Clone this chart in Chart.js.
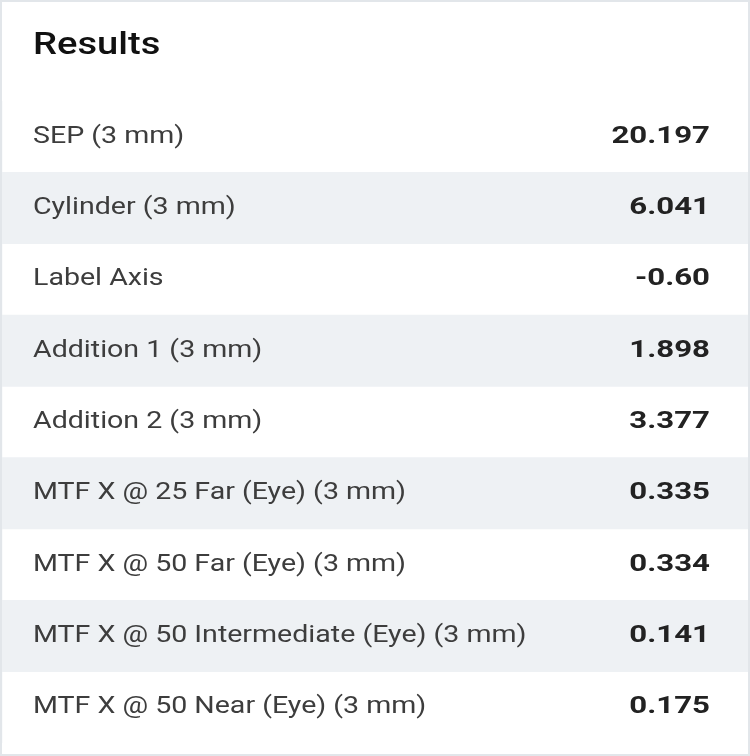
<!DOCTYPE html>
<html><head><meta charset="utf-8">
<script src="https://cdn.jsdelivr.net/npm/chart.js@4"></script>
<style>html,body{margin:0;padding:0;background:#fff}#w{width:750px;height:756px}</style>
</head><body><div id="w"><canvas id="c" width="750" height="756"></canvas></div>
<script>
const title = "Results";
const labels = ["SEP (3 mm)","Cylinder (3 mm)","Label Axis","Addition 1 (3 mm)","Addition 2 (3 mm)","MTF X @ 25 Far (Eye) (3 mm)","MTF X @ 50 Far (Eye) (3 mm)","MTF X @ 50 Intermediate (Eye) (3 mm)","MTF X @ 50 Near (Eye) (3 mm)"];
const values = ["20.197","6.041","-0.60","1.898","3.377","0.335","0.334","0.141","0.175"];
const stripe = [0,1,0,1,0,1,0,1,0];

function stretched(ctx, txt, x, y, sx){
  ctx.save(); ctx.translate(x, y); ctx.scale(sx, 1); ctx.fillText(txt, 0, 0); ctx.restore();
}
const textPlugin = {
  id:'txt',
  afterDraw(chart){
    const ctx = chart.ctx, y = chart.scales.y;
    ctx.save();
    ctx.strokeStyle = '#e2e6ea'; ctx.lineWidth = 2;
    ctx.strokeRect(1,1,748,754);
    ctx.fillStyle = '#111'; ctx.font = '500 31px Roboto'; ctx.textBaseline='middle'; ctx.textAlign='left';
    stretched(ctx, title, 33, 46, 1.23);
    labels.forEach((l,i)=>{
      const py = y.getPixelForValue(i);
      ctx.textAlign='left'; ctx.fillStyle='#3d3d3d'; ctx.font='400 24px Roboto';
      stretched(ctx, l, 33, py, 1.19);
      ctx.textAlign='right'; ctx.fillStyle='#222'; ctx.font='700 24px Roboto';
      stretched(ctx, values[i], 710, py, 1.3);
    });
    ctx.restore();
  }
};
new Chart(document.getElementById('c'), {
  type:'bar',
  data:{labels, datasets:[{data:stripe, backgroundColor:'#eef1f4', barPercentage:1, categoryPercentage:1, borderWidth:0}]},
  options:{
    indexAxis:'y', responsive:false, animation:false,
    layout:{padding:{top:101,bottom:13,left:2,right:2}},
    plugins:{legend:{display:false},tooltip:{enabled:false}},
    scales:{x:{display:false,min:0,max:1},y:{display:false}}
  },
  plugins:[textPlugin]
});
</script></body></html>
